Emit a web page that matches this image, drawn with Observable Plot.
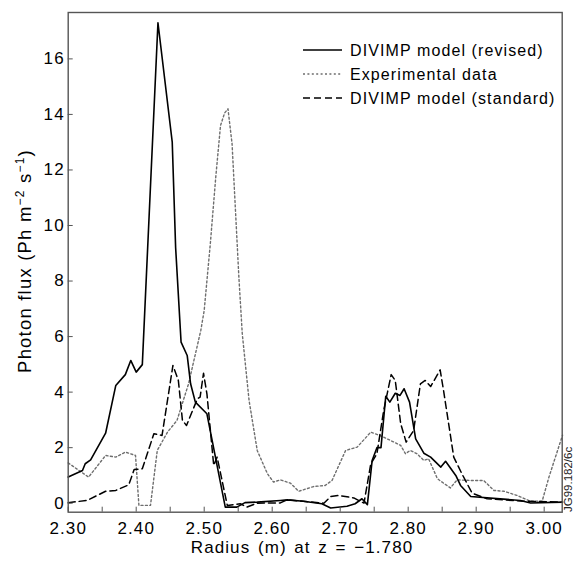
<!DOCTYPE html>
<html><head><meta charset="utf-8">
<script src="https://cdn.jsdelivr.net/npm/d3@7"></script>
<script src="https://cdn.jsdelivr.net/npm/@observablehq/plot@0.6"></script>
<style>body{margin:0;background:#fff}</style>
</head><body><div id="chart"></div>
<script>
// DIVIMP model (revised) – solid
const revisedX = [2.300,2.321,2.325,2.333,2.355,2.370,2.384,2.392,2.400,2.409,2.432,2.453,2.458,2.466,2.475,2.480,2.487,2.504,2.531,2.548,2.560,2.578,2.612,2.622,2.646,2.673,2.686,2.710,2.722,2.732,2.740,2.747,2.754,2.760,2.767,2.773,2.781,2.788,2.794,2.802,2.811,2.823,2.833,2.848,2.855,2.870,2.877,2.892,2.965,2.980,3.027];
const revisedY = [0.94,1.18,1.42,1.56,2.52,4.24,4.63,5.14,4.72,4.99,17.30,13.0,9.2,5.8,5.32,4.3,3.64,3.22,-0.14,-0.14,0.02,0.04,0.10,0.12,0.07,-0.02,-0.17,-0.11,-0.02,0.16,-0.05,1.54,2.0,2.0,3.85,3.64,3.96,3.88,4.12,3.64,2.32,1.80,1.66,1.30,1.51,1.0,0.64,0.24,0.10,0.01,0.04];

// Experimental data – dotted
const expX = [2.300,2.330,2.355,2.370,2.384,2.399,2.404,2.421,2.431,2.446,2.460,2.477,2.495,2.500,2.509,2.517,2.524,2.530,2.535,2.541,2.546,2.551,2.556,2.566,2.578,2.593,2.602,2.612,2.627,2.639,2.661,2.678,2.688,2.708,2.725,2.745,2.762,2.779,2.789,2.796,2.803,2.813,2.823,2.830,2.843,2.862,2.872,2.892,2.911,2.926,2.941,2.960,2.980,2.997,3.007,3.027];
const expY = [1.45,0.94,1.72,1.66,1.84,1.72,-0.08,-0.08,1.9,2.56,2.98,4.3,6.22,6.94,9.34,11.74,13.6,14.05,14.2,12.94,10.54,8.14,6.1,3.7,1.9,1.06,0.76,0.84,0.72,0.43,0.60,0.64,0.82,1.9,2.02,2.56,2.4,2.2,2.08,1.78,1.9,1.78,1.54,1.6,0.88,0.55,0.84,0.82,0.82,0.46,0.43,0.28,0.07,0.07,0.94,2.45];

// DIVIMP model (standard) – dashed
const stdX = [2.300,2.328,2.355,2.370,2.389,2.397,2.409,2.426,2.438,2.454,2.462,2.468,2.474,2.490,2.494,2.499,2.504,2.514,2.519,2.534,2.553,2.563,2.578,2.612,2.622,2.676,2.686,2.698,2.720,2.735,2.745,2.754,2.764,2.775,2.781,2.789,2.797,2.808,2.818,2.825,2.833,2.847,2.852,2.867,2.879,2.894,2.916,2.970,3.027];
const stdY = [0.02,0.10,0.43,0.46,0.66,1.21,1.24,2.5,2.44,4.96,4.42,2.98,2.8,3.76,3.82,4.68,3.94,1.36,1.66,-0.08,-0.02,-0.14,0.0,0.01,0.12,0.0,0.24,0.28,0.19,0.0,1.42,1.78,3.34,4.63,4.42,2.86,2.2,2.62,4.3,4.42,4.2,4.8,4.06,1.66,1.06,0.36,0.16,0.07,0.04];

const xTicks = [2.30,2.35,2.40,2.45,2.50,2.55,2.60,2.65,2.70,2.75,2.80,2.85,2.90,2.95,3.00];
const xTickLabels = [2.30,2.40,2.50,2.60,2.70,2.80,2.90,3.00];
const yTicks = [0,2,4,6,8,10,12,14,16];
const legendLabels = ["DIVIMP model (revised)","Experimental data","DIVIMP model (standard)"];
const xLabel = "Radius (m) at z = \u22121.780";
const figId = "JG99.182/6c";

const rows = (xs, ys) => xs.map((x, i) => ({x, y: ys[i]}));
const styles = [
  {stroke:"#000", strokeWidth:1.6, strokeDasharray:null},
  {stroke:"#6e6e6e", strokeWidth:1.4, strokeDasharray:"2,2.4"},
  {stroke:"#000", strokeWidth:1.5, strokeDasharray:"7,4"}
];

const chart = Plot.plot({
  width: 577, height: 567,
  marginLeft: 67.7, marginRight: 15.3, marginTop: 12, marginBottom: 55.3,
  style: {fontFamily: "'Liberation Sans', Arial, sans-serif", fontSize: "17px", background: "#fff", letterSpacing: "1.1px", color: "#000"},
  x: {domain: [2.30, 3.0265]},
  y: {domain: [-0.324, 17.67]},
  marks: [
    Plot.line(rows(expX, expY), {x: "x", y: "y", ...styles[1]}),
    Plot.line(rows(stdX, stdY), {x: "x", y: "y", ...styles[2]}),
    Plot.line(rows(revisedX, revisedY), {x: "x", y: "y", ...styles[0]}),
    Plot.axisX({ticks: xTicks, tickSize: -5, tickFormat: () => "", label: null, stroke: "#555"}),
    Plot.axisX({ticks: xTickLabels, tickSize: 0, tickPadding: 9.5, tickFormat: d => d.toFixed(2), label: null, fill: "#000"}),
    Plot.axisY({ticks: yTicks, tickSize: -5, tickFormat: () => "", label: null, stroke: "#555"}),
    Plot.axisY({ticks: yTicks, tickSize: 0, tickPadding: 3.5, tickFormat: d => String(d), label: null, fill: "#000"}),
    Plot.frame({stroke: "#555", strokeWidth: 1.4})
  ]
});
document.getElementById("chart").appendChild(chart);

const svg = d3.select(chart);
// x label
svg.append("text").attr("x", 302).attr("y", 553).attr("text-anchor", "middle")
  .attr("font-size", 17).style("word-spacing", "1.8px").attr("fill", "#000").text(xLabel);
// y label
const yl = svg.append("text").attr("transform", "translate(31,261) rotate(-90)")
  .attr("text-anchor", "middle").attr("font-size", 18.5).style("letter-spacing", "1.2px").attr("fill", "#000");
yl.append("tspan").text("Photon flux (Ph m");
yl.append("tspan").attr("dy", -7).attr("font-size", 12).text("\u22122");
yl.append("tspan").attr("dy", 7).text(" s");
yl.append("tspan").attr("dy", -7).attr("font-size", 12).text("\u22121");
yl.append("tspan").attr("dy", 7).text(")");
// legend
legendLabels.forEach((lab, i) => {
  const cy = 50 + i * 24;
  const s = styles[i];
  svg.append("line").attr("x1", 303).attr("x2", 342).attr("y1", cy).attr("y2", cy)
    .attr("stroke", s.stroke).attr("stroke-width", s.strokeWidth)
    .attr("stroke-dasharray", s.strokeDasharray);
  svg.append("text").attr("x", 350).attr("y", cy + 6).attr("font-size", 16)
    .attr("text-anchor", "start").attr("fill", "#000").text(lab);
});
// figure id
svg.append("text").attr("transform", "translate(572,512) rotate(-90)")
  .attr("text-anchor", "start").attr("font-size", 11.5).style("letter-spacing", "0px")
  .attr("fill", "#222").text(figId);
</script>
</body></html>
